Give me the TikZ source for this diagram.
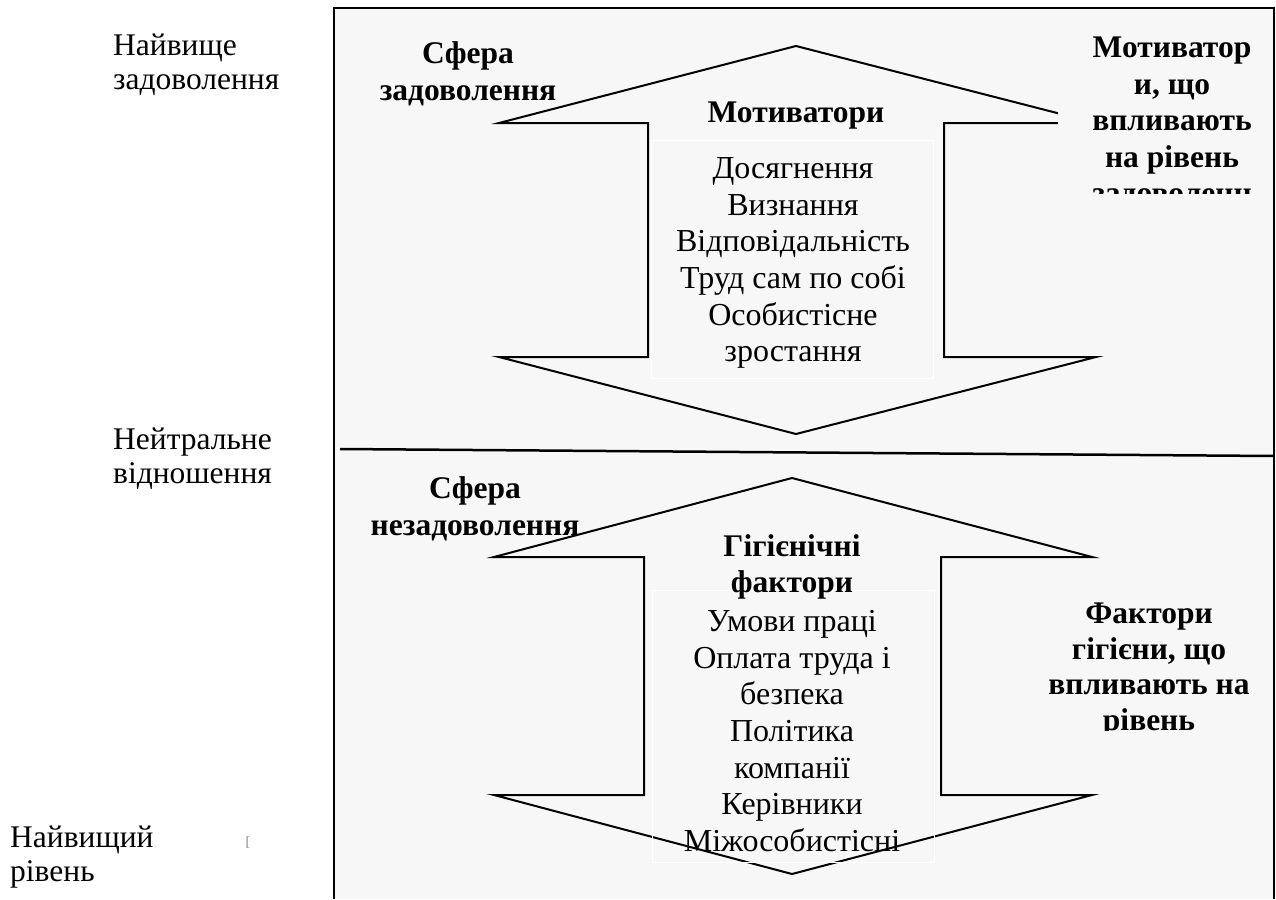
\documentclass[tikz,border=0pt]{standalone}
\usepackage{fontspec}
\setmainfont{Liberation Serif}
\definecolor{bg}{HTML}{F7F7F7}
\begin{document}
\begin{tikzpicture}[x=1pt,y=-1pt,
  lbl/.style={font=\fontsize{31.5}{34}\selectfont, align=left, inner sep=0, anchor=west},
  bld/.style={font=\fontsize{31.5}{36.5}\selectfont\bfseries, align=center, inner sep=0},
  lst/.style={font=\fontsize{32}{36.7}\selectfont, align=center, inner sep=0},
  arr/.style={draw=black, line width=2pt, line join=miter},
  innerbox/.style={draw=white, line width=1pt},
  frame/.style={draw=black, line width=2pt}
  ]
\useasboundingbox (0,0) rectangle (1276,899);
\fill[white] (0,0) rectangle (1276,899);
\fill[bg] (334,8) rectangle (1274,899);
\draw[frame] (334,899) -- (334,8) -- (1274,8) -- (1274,899);
\coordinate (dl) at (340,449);
\coordinate (dr) at (1274,456);
\draw[line width=2.5pt] (dl) -- (dr);

% left labels
\node[lbl] (l1) at (113,65) {Найвище\\задоволення};
\node[lbl] (l2) at (113,459) {Нейтральне\\відношення};
\node[lbl] (l3) at (10,857) {Найвищий\\рівень};
\node[font=\fontsize{14}{14}\selectfont, text=gray, inner sep=0] (br) at (248,843) {[};

% upper arrow
\draw[arr] (796,46) -- (1096,123) -- (944,123) -- (944,357) -- (1096,357) -- (796,434) -- (499,357) -- (648,357) -- (648,123) -- (499,123) -- cycle;
\draw[innerbox] (651,140) rectangle (933,378);

% lower arrow
\draw[arr] (792,478) -- (1092,557) -- (941,557) -- (941,795) -- (1092,795) -- (792,874) -- (494,795) -- (644,795) -- (644,557) -- (494,557) -- cycle;
\draw[innerbox] (652,590) rectangle (934,862);

% upper texts
\node[bld] (sz) at (468,74) {Сфера\\задоволення};
\node[bld] (mot) at (796,116) {Мотиватори};
\node[lst] (ml) at (793,263) {Досягнення\\Визнання\\Відповідальність\\Труд сам по собі\\Особистісне\\зростання};
\begin{scope}
\clip (1058,10) rectangle (1272,193);
\fill[bg] (1058,10) rectangle (1272,193);
\node[bld, anchor=north] (mr) at (1172,37) {Мотиватор\\и, що\\впливають\\на рівень\\задоволенн};
\end{scope}

% lower texts
\node[bld] (snz) at (475,509) {Сфера\\незадоволення};
\node[bld] (hyg) at (792,567) {Гігієнічні\\фактори};
\node[lst] (hl) at (792,731) {Умови праці\\Оплата труда і\\безпека\\Політика\\компанії\\Керівники\\Міжособистісні};
\begin{scope}
\clip (1038,580) rectangle (1262,730);
\node[bld, anchor=north, font=\fontsize{31.5}{35.5}\selectfont\bfseries] (fr) at (1149,603) {Фактори\\гігієни, що\\впливають на\\рівень};
\end{scope}
\end{tikzpicture}
\end{document}
